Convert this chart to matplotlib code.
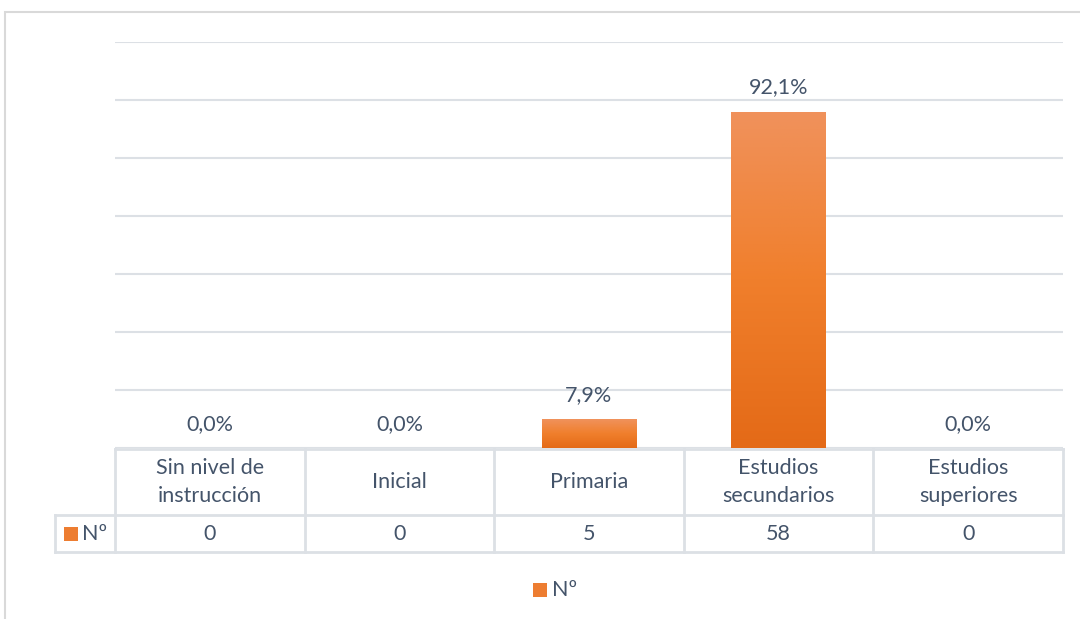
import numpy as np
import matplotlib
matplotlib.use("Agg")
import matplotlib.pyplot as plt
from matplotlib.patches import Rectangle
from matplotlib.colors import LinearSegmentedColormap

categories = ["Sin nivel de\ninstrucción", "Inicial", "Primaria", "Estudios\nsecundarios", "Estudios\nsuperiores"]
counts = [0, 0, 5, 58, 0]
pct_labels = ["0,0%", "0,0%", "7,9%", "92,1%", "0,0%"]
series_name = "Nº"

W, H = 1080, 619
TEXT = "#44546A"
GRID = "#DCE0E5"
FS = 15.5
plt.rcParams["font.family"] = ["Lato", "DejaVu Sans"]

fig = plt.figure(figsize=(W / 100, H / 100), dpi=100)

def px(x0, y0, x1, y1):
    # pixel box (top-left origin) -> figure fraction rect
    return [x0 / W, 1 - y1 / H, (x1 - x0) / W, (y1 - y0) / H]

# chart area border
fig.patches.append(Rectangle((5 / W, -0.1), 1.2, 1 - 12 / H + 0.1, transform=fig.transFigure,
                             fill=False, edgecolor="#D9D9D9", linewidth=1.5))

ax = fig.add_axes(px(115, 42, 1063, 448))
ax.set_xlim(-0.5, 4.5)
ax.set_ylim(0, 70)
for s in ax.spines.values():
    s.set_visible(False)
ax.set_xticks([])
ax.set_yticks(range(0, 71, 10))
ax.tick_params(left=False, labelleft=False)
ax.grid(axis="y", color=GRID, linewidth=1.5)
ax.set_axisbelow(True)

cmap = LinearSegmentedColormap.from_list("org", ["#E46A17", "#F07F2C", "#F0925C"])
grad = np.linspace(0, 1, 256).reshape(-1, 1)
bars = ax.bar(range(len(counts)), counts, width=0.5, color="#ED7D31", zorder=2)
for b in bars:
    if b.get_height() <= 0:
        continue
    x0, y0 = b.get_x(), b.get_y()
    im = ax.imshow(grad, cmap=cmap, origin="lower", aspect="auto", zorder=3,
                   extent=[x0, x0 + b.get_width(), y0, y0 + b.get_height()])
    im.set_clip_path(b)
ax.set_xlim(-0.5, 4.5)
ax.set_ylim(0, 70)

for i, (v, lab) in enumerate(zip(counts, pct_labels)):
    ax.annotate(lab, (i, v), xytext=(0, 17.3), textcoords="offset points",
                ha="center", va="center", fontsize=FS, color=TEXT)

# data table
tx = fig.add_axes(px(55, 448, 1063, 553))
left_edge = -0.5 - 60 / 190
tx.set_xlim(left_edge, 4.5)
tx.set_ylim(105, 0)
tx.axis("off")
lw = 2
tx.plot([-0.5, 4.5], [1, 1], color=GRID, lw=lw, clip_on=False)
tx.plot([left_edge, 4.5], [67, 67], color=GRID, lw=lw, clip_on=False)
tx.plot([left_edge, 4.5], [104, 104], color=GRID, lw=lw, clip_on=False)
tx.plot([left_edge, left_edge], [67, 104], color=GRID, lw=lw, clip_on=False)
for k in range(len(categories) + 1):
    tx.plot([k - 0.5, k - 0.5], [1, 104], color=GRID, lw=lw, clip_on=False)
for i, (c, v) in enumerate(zip(categories, counts)):
    tx.text(i, 34, c, ha="center", va="center", fontsize=FS, color=TEXT, linespacing=1.55)
    tx.text(i, 86, str(v), ha="center", va="center", fontsize=FS, color=TEXT)
kx = left_edge + 9 / 190
tx.add_patch(Rectangle((kx, 79), 14 / 190, 14, facecolor="#ED7D31", edgecolor="none"))
tx.text(kx + 18 / 190, 86, series_name, ha="left", va="center", fontsize=FS, color=TEXT)

# legend
fig.patches.append(Rectangle((533 / W, 1 - 597 / H), 14 / W, 14 / H, transform=fig.transFigure,
                             facecolor="#ED7D31", edgecolor="none"))
fig.text(552 / W, 1 - 590 / H, series_name, ha="left", va="center", fontsize=FS, color=TEXT)

fig.savefig("out.png", dpi=100)
